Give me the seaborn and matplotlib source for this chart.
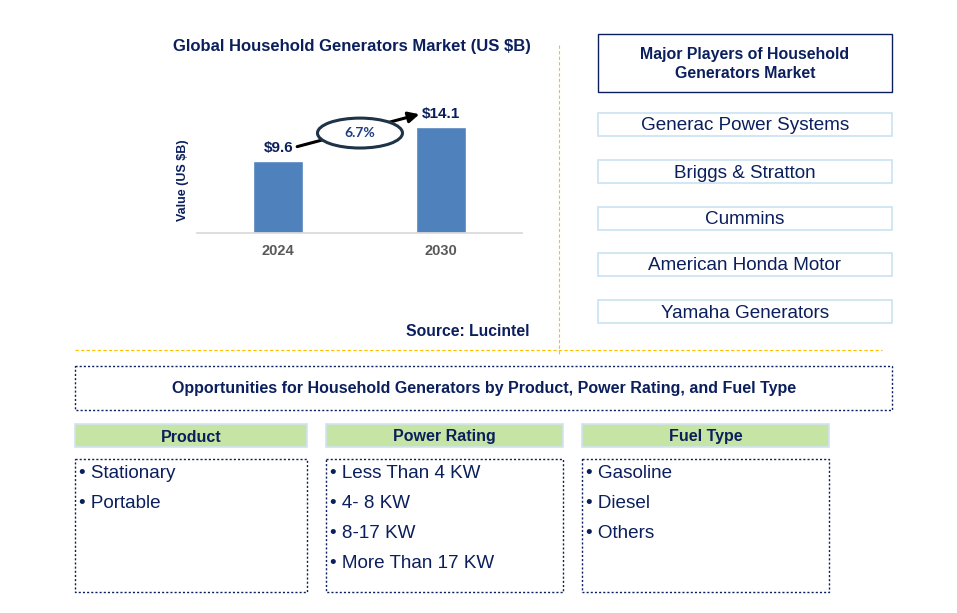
import matplotlib
matplotlib.use('Agg')
import numpy as np
import pandas as pd
import seaborn as sns
import matplotlib.pyplot as plt
from matplotlib.patches import Rectangle, Ellipse

# chart values
years = ['2024', '2030']
values = [9.6, 14.1]
value_labels = ['$9.6', '$14.1']
cagr = '6.7%'

title = 'Global Household Generators Market (US $B)'
y_title = 'Value (US $B)'
source = 'Source: Lucintel'

players_title = 'Major Players of Household\nGenerators Market'
players = ['Generac Power Systems', 'Briggs & Stratton', 'Cummins',
           'American Honda Motor', 'Yamaha Generators']

opp_title = 'Opportunities for Household Generators by Product, Power Rating, and Fuel Type'
seg_titles = ['Product', 'Power Rating', 'Fuel Type']
seg_product = ['Stationary', 'Portable']
seg_power = ['Less Than 4 KW', '4- 8 KW', '8-17 KW', 'More Than 17 KW']
seg_fuel = ['Gasoline', 'Diesel', 'Others']

NAVY = '#0b1f5c'
BAR = '#4f81bd'
ORANGE = '#ffc000'
GREEN = '#c6e5a4'
LIGHTBLUE = '#c9e2f2'

sns.set_theme(style='white')
plt.rcParams['font.family'] = ['Liberation Sans', 'DejaVu Sans']

W, H = 957, 613
fig = plt.figure(figsize=(W / 100, H / 100), dpi=100)

# overlay canvas in pixel units
bg = fig.add_axes([0, 0, 1, 1])
bg.set_xlim(0, W)
bg.set_ylim(H, 0)
bg.axis('off')

# ---- bar chart ----
ax = fig.add_axes([197 / W, (H - 233) / H, 325 / W, 133 / H])
df = pd.DataFrame({'Year': years, 'Value': values})
sns.barplot(data=df, x='Year', y='Value', color=BAR, width=0.31,
            saturation=1, ax=ax)
ax.set_xlim(-0.5, 1.5)
ax.set_ylim(0, 17.7)
ax.set_yticks([])
ax.set_xlabel('')
ax.set_ylabel('')
ax.patch.set_alpha(0)
for s in ['top', 'right', 'left']:
    ax.spines[s].set_visible(False)
ax.spines['bottom'].set_color('#d9d9d9')
ax.tick_params(axis='x', length=0, pad=8)
for t in ax.get_xticklabels():
    t.set_fontweight('bold')
    t.set_color('#595959')
    t.set_fontsize(10.5)

for i, (v, lab) in enumerate(zip(values, value_labels)):
    ax.annotate(lab, (i, v), xytext=(0, 9.5), textcoords='offset points',
                ha='center', va='center', fontsize=11, fontweight='bold',
                color=NAVY)

ax.annotate('', xy=(0.885, 15.9), xytext=(0.10, 11.4),
            arrowprops=dict(arrowstyle='-|>', color='black', lw=2.2,
                            mutation_scale=16))
ax.add_patch(Ellipse((0.503, 13.3), 0.523, 3.98, facecolor='white',
                     edgecolor='#1f3347', lw=2.2, zorder=5))
ax.text(0.503, 13.3, cagr, ha='center', va='center', fontsize=10,
        fontweight='bold', color='#1f3f7f', family=['Lato', 'DejaVu Sans'],
        zorder=6)

bg.text(352, 47, title, ha='center', va='center', fontsize=12,
        fontweight='bold', color=NAVY)
bg.text(183, 180, y_title, ha='center', va='center', rotation=90,
        fontsize=9, fontweight='bold', color=NAVY)
bg.text(530, 331, source, ha='right', va='center', fontsize=11.3,
        fontweight='bold', color=NAVY)

# separators
bg.plot([559, 559], [45, 356], color=ORANGE, lw=0.8, ls=(0, (3, 2)))
bg.plot([75, 882], [350, 350], color=ORANGE, lw=0.8, ls=(0, (3, 2)))

# ---- players panel ----
bg.add_patch(Rectangle((598, 34), 294, 58, fill=False, edgecolor=NAVY, lw=1))
bg.text(745, 64, players_title, ha='center', va='center', fontsize=11.4,
        fontweight='bold', color=NAVY, linespacing=1.3)
box_tops = [113, 160, 207, 253, 300]
for top, name in zip(box_tops, players):
    bg.add_patch(Rectangle((598, top), 294, 23, fill=False,
                           edgecolor=LIGHTBLUE, lw=1.2))
    bg.text(745, top + 13, name, ha='center', va='center', fontsize=13.6,
            color=NAVY)

# ---- opportunities ----
bg.add_patch(Rectangle((75, 366), 817, 44, fill=False, edgecolor=NAVY,
                       lw=1, ls=(0, (1.5, 1.5))))
bg.text(484, 389, opp_title, ha='center', va='center', fontsize=11.5,
        fontweight='bold', color=NAVY)

cols = [(75, 232), (326, 237), (582, 247)]
seg_items = [seg_product, seg_power, seg_fuel]
for (x0, w), head, items in zip(cols, seg_titles, seg_items):
    bg.add_patch(Rectangle((x0, 424), w, 23, facecolor=GREEN,
                           edgecolor='#cfe3f3', lw=1.2))
    bg.text(x0 + w / 2, 437, head, ha='center', va='center', fontsize=11.5,
            fontweight='bold', color=NAVY)
    bg.add_patch(Rectangle((x0, 459), w, 133, fill=False, edgecolor=NAVY,
                           lw=1, ls=(0, (1.5, 1.5))))
    for k, item in enumerate(items):
        bg.text(x0 + 4, 473 + 30 * k, '\u2022 ' + item, ha='left',
                va='center', fontsize=13.6, color=NAVY)

fig.savefig('out.png', dpi=100)
